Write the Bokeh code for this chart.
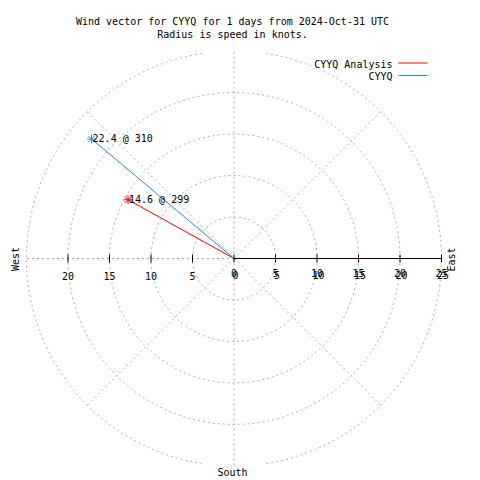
import numpy as np
from bokeh.plotting import figure
from bokeh.models import Range1d, Label
from bokeh.core.properties import value
from bokeh.embed import file_html
from bokeh.resources import INLINE

# ---- data ----
series_names = ["CYYQ Analysis", "CYYQ"]
series_colors = ["#ff0000", "#1e88ff"]
speeds = [14.6, 22.4]          # knots
directions = [299, 310]        # degrees
ring_radii = [5, 10, 15, 20]
outer_radius = 25
right_ticks = [0, 5, 10, 15, 20, 25]
left_ticks = [20, 15, 10, 5]
spoke_angles = [0, 45, 90, 135, 180, 225, 270, 315]
title1 = "Wind vector for CYYQ for 1 days from 2024-Oct-31 UTC"
title2 = "Radius is speed in knots."

# ---- geometry helpers (page pixel -> data knots) ----
S = 8.3
CX, CY = 233.5, 258.0
def X(px):
    return (px - CX) / S
def Y(py):
    return (CY - py) / S

FONT = value("DejaVu Sans Mono")
FS = "10px"
GRAY = "#a8a8a8"

p = figure(width=480, height=480,
           x_range=Range1d(X(0), X(480)), y_range=Range1d(Y(480), Y(0)),
           output_backend="svg", toolbar_location=None, min_border=0,
           x_axis_location=None, y_axis_location=None)
p.grid.visible = False
p.outline_line_color = None
p.background_fill_color = "white"
p.border_fill_color = "white"

# rings
p.circle(x=[0] * len(ring_radii), y=[0] * len(ring_radii), radius=ring_radii,
         fill_color=None, line_color=GRAY, line_dash="2 3", line_width=1)
gap = np.deg2rad(9)
p.arc(x=[0, 0], y=[0, 0], radius=outer_radius,
      start_angle=[np.pi / 2 + gap, -np.pi / 2 + gap],
      end_angle=[3 * np.pi / 2 - gap, np.pi / 2 - gap],
      line_color=GRAY, line_dash="2 3", line_width=1)

# spokes
sa = np.deg2rad(spoke_angles)
p.segment(x0=np.zeros(len(sa)), y0=np.zeros(len(sa)),
          x1=outer_radius * np.sin(sa), y1=outer_radius * np.cos(sa),
          line_color=GRAY, line_dash="2 3", line_width=1)

# axis (east)
p.segment(x0=[0], y0=[0], x1=[outer_radius], y1=[0], line_color="black", line_width=1)
tk = [float(t) for t in right_ticks] + [-float(t) for t in left_ticks]
p.segment(x0=tk, y0=[-4 / S] * len(tk), x1=tk, y1=[4 / S] * len(tk),
          line_color="black", line_width=1)

# tick labels (right labels appear doubled in the reference)
p.text(x=[float(t) for t in right_ticks], y=[Y(272)] * len(right_ticks),
       text=[str(t) for t in right_ticks], text_align="center", text_baseline="middle",
       text_font=FONT, text_font_size=FS, text_color="black")
p.text(x=[t + 1.5 / S for t in right_ticks], y=[Y(274.5)] * len(right_ticks),
       text=[str(t) for t in right_ticks], text_align="center", text_baseline="middle",
       text_font=FONT, text_font_size=FS, text_color="black")
p.text(x=[-float(t) for t in left_ticks], y=[Y(275)] * len(left_ticks),
       text=[str(t) for t in left_ticks], text_align="center", text_baseline="middle",
       text_font=FONT, text_font_size=FS, text_color="black")

# vectors
rad = np.deg2rad(directions)
vx = np.array(speeds) * np.sin(rad)
vy = np.array(speeds) * np.cos(rad)
p.segment(x0=[0, 0], y0=[0, 0], x1=vx, y1=vy, line_color=series_colors, line_width=1)
p.scatter(x=vx, y=vy, marker="asterisk", size=9, line_color=series_colors, line_width=1)
p.text(x=vx, y=vy, text=[f"{s} @ {d}" for s, d in zip(speeds, directions)],
       x_offset=1, text_align="left", text_baseline="middle",
       text_font=FONT, text_font_size=FS, text_color="black")

# compass labels
LBL = dict(text_font="DejaVu Sans Mono", text_font_size=FS, text_color="black",
           text_baseline="middle")
p.add_layout(Label(x=X(14.5), y=Y(258.5), text="West", angle=np.pi / 2,
                   text_align="center", **LBL))
p.add_layout(Label(x=X(451), y=Y(259), text="East", angle=np.pi / 2,
                   text_align="center", **LBL))
p.add_layout(Label(x=X(232), y=Y(471.5), text="South", text_align="center", **LBL))

# title
for t, py in [(title1, 20.5), (title2, 33.5)]:
    p.add_layout(Label(x=X(232), y=Y(py), text=t, text_align="center", **LBL))

# legend
for name, col, py in zip(series_names, series_colors, [63.5, 76]):
    p.add_layout(Label(x=X(392), y=Y(py), text=name, text_align="right",
                       background_fill_color="white", **LBL))
    p.segment(x0=[X(398)], y0=[Y(py - 1)], x1=[X(427)], y1=[Y(py - 1)],
              line_color=col, line_width=1)

open("out.html", "w").write(file_html(p, INLINE))
